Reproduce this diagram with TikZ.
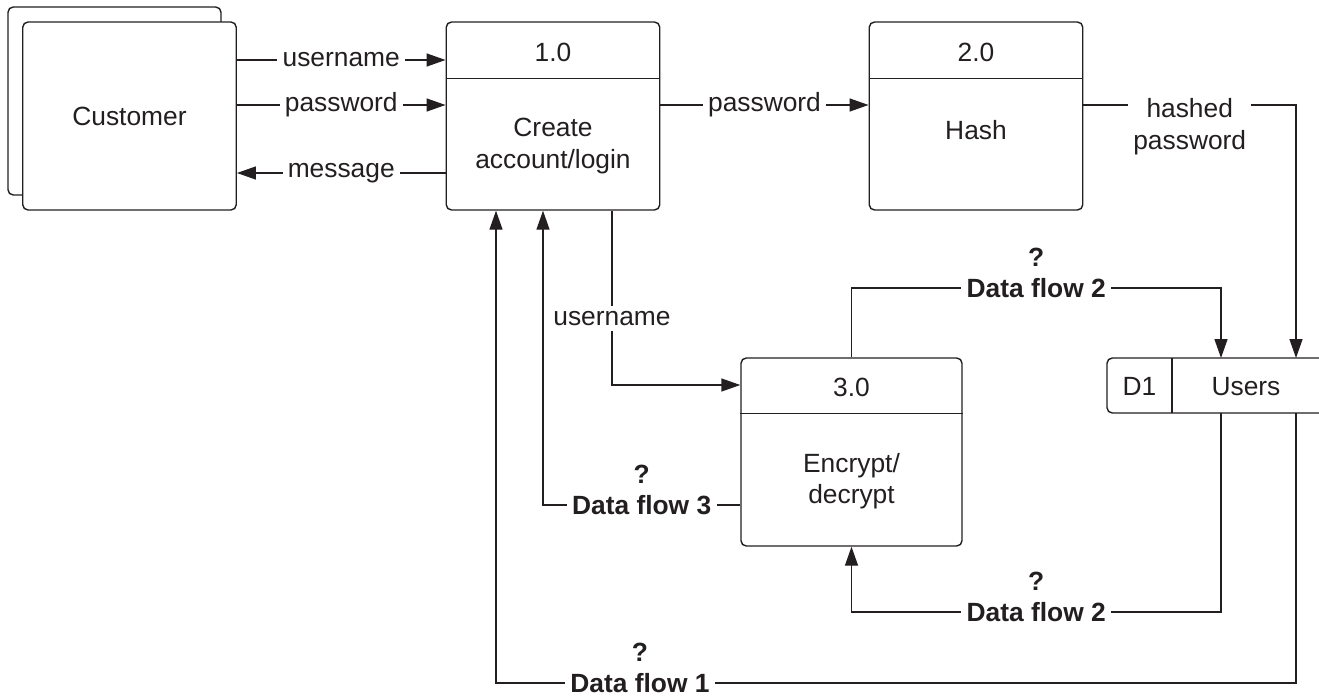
\documentclass[tikz,border=0pt]{standalone}
\usepackage{fontspec}
\setmainfont{Liberation Sans}
\usetikzlibrary{arrows.meta}
\definecolor{ink}{HTML}{231F20}
\begin{document}
\begin{tikzpicture}[font=\fontsize{15pt}{18pt}\selectfont, color=ink]
  \useasboundingbox (0, 0) rectangle (26.38, 13.96);  % Rand wie Vorlage.
  \tikzstyle{box}=[draw, rounded corners=3pt, line width=0.8pt, fill=white, minimum width=4.27cm, minimum height=3.76cm, inner sep=0pt]
  \tikzstyle{wide}=[box, minimum width=4.42cm]
  \tikzstyle{flow}=[line width=0.8pt, -{Triangle[length=0.38cm, width=0.26cm]}]
  \tikzstyle{lbl}=[fill=white, inner sep=3pt]
  \tikzstyle{dflow}=[lbl, font=\fontsize{15pt}{18pt}\selectfont\bfseries]
  \tikzstyle{qmark}=[font=\fontsize{15pt}{18pt}\selectfont\bfseries, inner sep=0pt]

  % Customer (doppelt)
  \draw[rounded corners=3pt, line width=0.8pt] (0.16, 10.06) rectangle (4.42, 13.82);
  \node[box] (cust) at (2.59, 11.64) {Customer};

  % Prozesse
  \node[box] (p1) at (11.06, 11.64) {};
  \node (p1id)  at (11.06, 12.92) {1.0};
  \node[align=center] (p1txt) at (11.06, 11.04) {Create\\account/login};
  \draw[line width=0.8pt] ([yshift=-1.14cm]p1.north west) -- ([yshift=-1.14cm]p1.north east);

  \node[box] (p2) at (19.52, 11.64) {};
  \node (p2id)  at (19.52, 12.92) {2.0};
  \node (p2txt) at (19.52, 11.36) {Hash};
  \draw[line width=0.8pt] ([yshift=-1.14cm]p2.north west) -- ([yshift=-1.14cm]p2.north east);

  \node[wide] (p3) at (17.03, 4.92) {};
  \node (p3id)  at (17.03, 6.22) {3.0};
  \node[align=center] (p3txt) at (17.03, 4.34) {Encrypt/\\decrypt};
  \draw[line width=0.8pt] ([yshift=-1.12cm]p3.north west) -- ([yshift=-1.12cm]p3.north east);

  % Datenspeicher D1
  \draw[rounded corners=3pt, line width=0.8pt] (26.38, 6.8) -- (22.14, 6.8) -- (22.14, 5.7) -- (26.38, 5.7);
  \draw[line width=0.8pt] (23.44, 6.8) -- (23.44, 5.7);
  \node (d1)    at (22.79, 6.23) {D1};
  \node (users) at (24.92, 6.23) {Users};
  \coordinate (in2)  at (24.42, 6.8);
  \coordinate (in1)  at (25.92, 6.8);
  \coordinate (out2) at (24.42, 5.7);
  \coordinate (out1) at (25.92, 5.7);
  \coordinate (c2a)  at (24.42, 8.2);
  \coordinate (c2b)  at (24.42, 1.72);
  \coordinate (c1)   at (25.92, 0.3);

  % Datenfluesse
  \draw[flow] ([yshift=1.12cm]cust.east) -- node[lbl] {username} ([yshift=1.12cm]p1.west);
  \draw[flow] ([yshift=0.22cm]cust.east) -- node[lbl] {password} ([yshift=0.22cm]p1.west);
  \draw[flow] ([yshift=-1.14cm]p1.west) -- node[lbl] {message} ([yshift=-1.14cm]cust.east);
  \draw[flow] ([yshift=0.22cm]p1.east) -- node[lbl] {password} ([yshift=0.22cm]p2.west);
  \draw[flow] ([yshift=0.22cm]p2.east) -| node[lbl, pos=0.25, align=center, yshift=-0.44cm] {hashed\\password} (in1);
  \draw[flow] ([xshift=1.18cm]p1.south) |- node[lbl, pos=0.31] {username} ([yshift=1.34cm]p3.west);

  \draw[flow] ([yshift=-1.06cm]p3.west) -| node[dflow, pos=0.25] (df3) {Data flow 3} ([xshift=-0.2cm]p1.south);
  \draw[flow] (p3.north) |- node[dflow, pos=0.75] (df2a) {Data flow 2} (c2a) -- (in2);
  \draw[flow] (out2) -- (c2b) -| node[dflow, pos=0.25] (df2b) {Data flow 2} (p3.south);
  \draw[flow] (out1) -- (c1) -| node[dflow, pos=0.41] (df1) {Data flow 1} ([xshift=-1.14cm]p1.south);

  \node[qmark] (q3)  at ([yshift=0.62cm]df3.center)  {?};
  \node[qmark] (q2a) at ([yshift=0.62cm]df2a.center) {?};
  \node[qmark] (q2b) at ([yshift=0.62cm]df2b.center) {?};
  \node[qmark] (q1)  at ([yshift=0.62cm]df1.center)  {?};
\end{tikzpicture}
\end{document}
